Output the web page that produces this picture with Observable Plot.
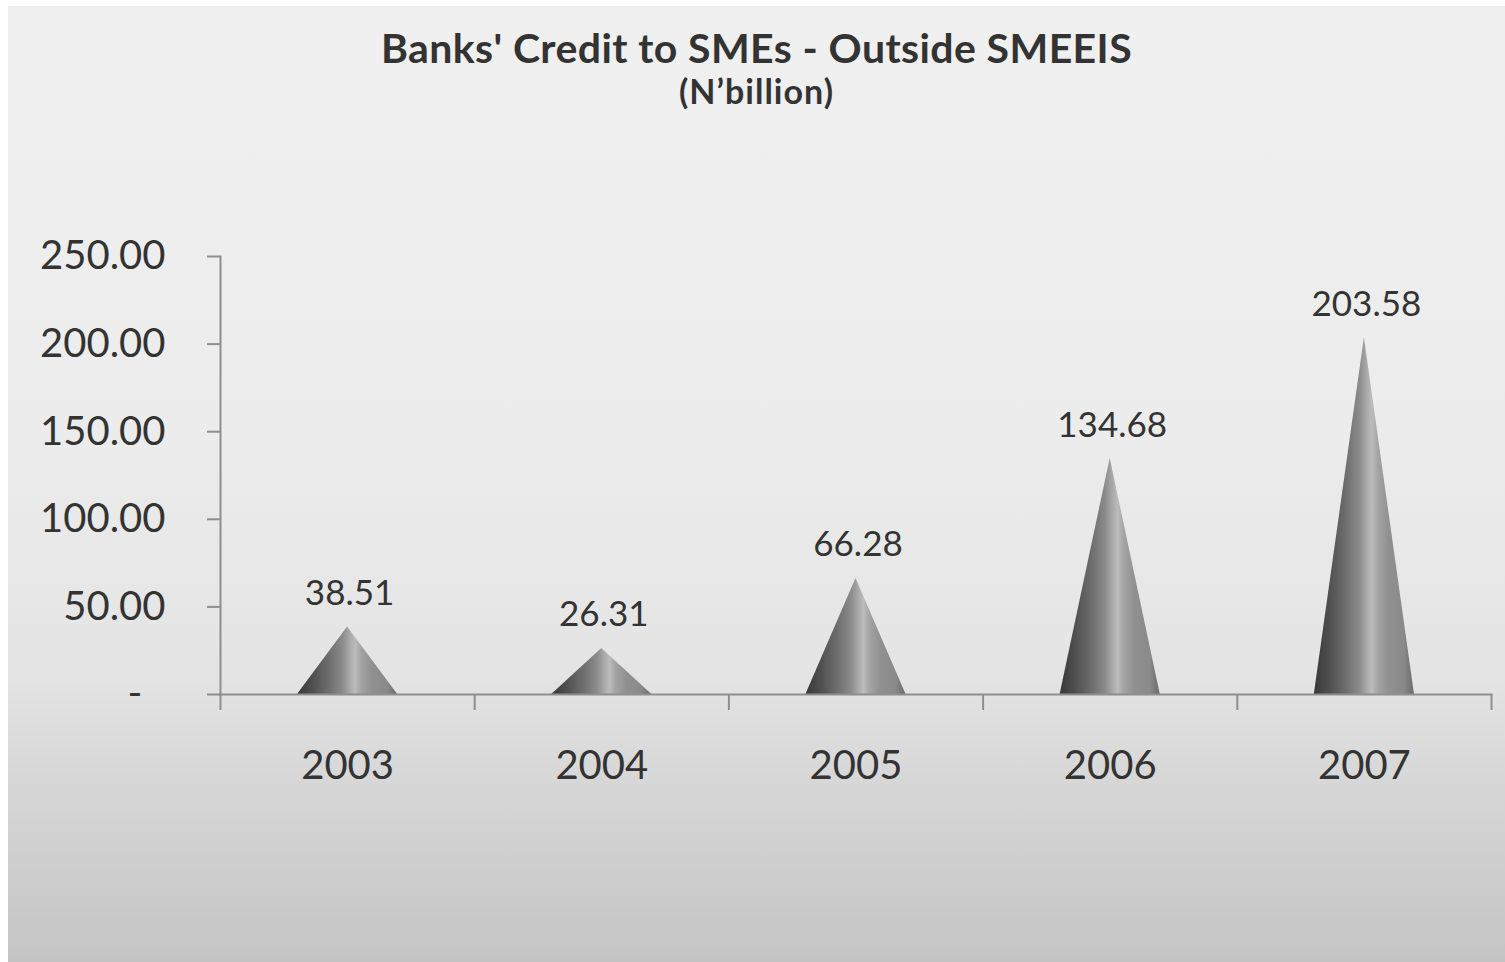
<!DOCTYPE html>
<html>
<head>
<meta charset="utf-8">
<script src="https://cdn.jsdelivr.net/npm/d3@7"></script>
<script src="https://cdn.jsdelivr.net/npm/@observablehq/plot@0.6"></script>
<style>
  html, body { margin: 0; padding: 0; background: #ffffff; width: 1505px; height: 962px; overflow: hidden; }
  #panel {
    position: absolute; left: 8px; top: 6px; width: 1497px; height: 956px;
    background: linear-gradient(to bottom, #f0f0f0 0%, #ececec 45%, #e4e4e4 70%, #d8d8d8 80%, #c4c4c4 100%);
    font-family: Lato, "Open Sans", sans-serif; color: #333;
  }
  #title { position: absolute; left: 0; width: 1497px; top: 18px; text-align: center; font-weight: bold; font-size: 41px; line-height: 48px; letter-spacing: 0.4px; }
  #subtitle { position: absolute; left: 0; width: 1497px; top: 65px; text-align: center; font-weight: bold; font-size: 34px; line-height: 40px; letter-spacing: 1px; }
  #chart { position: absolute; left: 0; top: 130px; }
</style>
</head>
<body>
<div id="panel">
  <div id="title">Banks' Credit to SMEs - Outside SMEEIS</div>
  <div id="subtitle">(N’billion)</div>
  <div id="chart"></div>
</div>
<script>
const years = [2003, 2004, 2005, 2006, 2007];
const values = [38.51, 26.31, 66.28, 134.68, 203.58];
const yTicks = [0, 50, 100, 150, 200, 250];

// each cone: base corners and apex, in data units (half base width in years)
const halfBase = 0.197;
const coneData = years.flatMap((yr, i) => [
  {year: yr, x: yr - halfBase, y: 0},
  {year: yr, x: yr, y: values[i]},
  {year: yr, x: yr + halfBase, y: 0}
]);
const labels = years.map((yr, i) => ({year: yr, value: values[i]}));
const bandEdges = [...years.map(y => y - 0.5), years[years.length - 1] + 0.5];

const axisColor = "#8e8e8e";
const textColor = "#333333";

const chart = Plot.plot({
  width: 1497,
  height: 820,
  marginTop: 120,
  marginBottom: 262,
  marginLeft: 212,
  marginRight: 14,
  style: {background: "transparent", fontFamily: "Lato, 'Open Sans', sans-serif", color: textColor},
  x: {domain: [bandEdges[0], bandEdges[bandEdges.length - 1]], axis: null},
  y: {domain: [0, 250], axis: null},
  marks: [
    Plot.areaY(coneData, {x: "x", y: "y", z: "year", fill: "url(#coneGrad)", curve: "linear"}),
    Plot.frame({anchor: "left", stroke: axisColor, strokeWidth: 2}),
    Plot.frame({anchor: "bottom", stroke: axisColor, strokeWidth: 2}),
    Plot.axisY({
      ticks: yTicks, tickSize: 13, tickPadding: 42, stroke: axisColor, strokeWidth: 2,
      fontSize: 40, fill: textColor, label: null,
      tickFormat: d => d === 0 ? "-\u2007" : d.toFixed(2)
    }),
    Plot.axisX({
      ticks: bandEdges, tickSize: 16, stroke: axisColor, strokeWidth: 2,
      tickFormat: () => "", label: null
    }),
    Plot.axisX({
      ticks: years, tickSize: 0, tickPadding: 56, fontSize: 40, fill: textColor,
      tickFormat: d => String(d), label: null
    }),
    Plot.text(labels, {
      x: "year", y: "value", text: d => d.value.toFixed(2), dy: -22, dx: 2,
      lineAnchor: "bottom", fontSize: 35, fill: textColor
    })
  ]
});

// gradient definition for the cones
const ns = "http://www.w3.org/2000/svg";
const defs = document.createElementNS(ns, "defs");
const grad = document.createElementNS(ns, "linearGradient");
grad.setAttribute("id", "coneGrad");
grad.setAttribute("x1", "0"); grad.setAttribute("x2", "1");
grad.setAttribute("y1", "0"); grad.setAttribute("y2", "0");
const stops = [
  [0, "#383838"], [0.15, "#4f4f4f"], [0.32, "#6e6e6e"], [0.45, "#8a8a8a"],
  [0.53, "#aaaaaa"], [0.58, "#bcbcbc"], [0.64, "#a4a4a4"], [0.75, "#909090"],
  [0.9, "#8a8a8a"], [1, "#6a6a6a"]
];
for (const [o, c] of stops) {
  const s = document.createElementNS(ns, "stop");
  s.setAttribute("offset", o);
  s.setAttribute("stop-color", c);
  grad.appendChild(s);
}
defs.appendChild(grad);
chart.insertBefore(defs, chart.firstChild);

document.getElementById("chart").appendChild(chart);
</script>
</body>
</html>
